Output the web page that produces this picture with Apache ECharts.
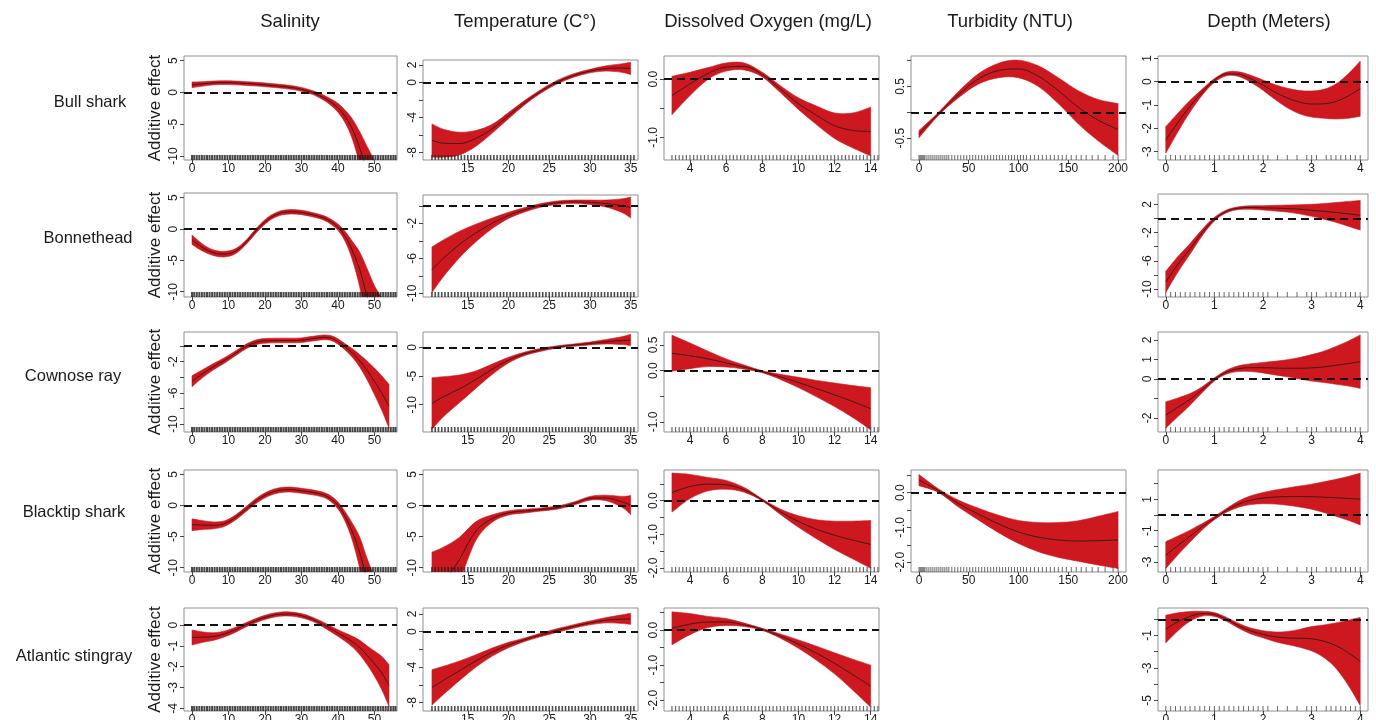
<!DOCTYPE html>
<html><head><meta charset="utf-8">
<script src="https://cdn.jsdelivr.net/npm/echarts@6/dist/echarts.min.js"></script>
<style>html,body{margin:0;padding:0;background:#fff}#c{width:1376px;height:720px}</style>
</head><body><div id="c"></div>
<script>
// ---------------- text ----------------
const columnTitles = ['Salinity', 'Temperature (C°)', 'Dissolved Oxygen (mg/L)', 'Turbidity (NTU)', 'Depth (Meters)'];
const speciesNames = ['Bull shark', 'Bonnethead', 'Cownose ray', 'Blacktip shark', 'Atlantic stingray'];
const yAxisTitle = 'Additive effect';

// ---------------- x grids of the smooths ----------------
const salX = [0, 3, 6, 9, 12, 15, 18, 21, 24, 27, 30, 33, 36, 38, 40, 42, 44, 46, 48, 50, 52, 54];
const tempX = [10.6, 12, 14, 16, 18, 20, 22, 24, 26, 28, 30, 32, 34, 35];
const doX = [3, 4, 5, 6, 7, 8, 9, 10, 11, 12, 13, 14];
const turbX = [0, 20, 40, 60, 80, 100, 120, 140, 160, 180, 200];
const depthX = [0, 0.25, 0.5, 0.75, 1, 1.25, 1.5, 1.75, 2, 2.25, 2.5, 2.75, 3, 3.25, 3.5, 3.75, 4];

// ---------------- x tick labels ----------------
const salTicks = [0, 10, 20, 30, 40, 50];
const tempTicks = [15, 20, 25, 30, 35];
const doTicks = [4, 6, 8, 10, 12, 14];
const turbTicks = [0, 50, 100, 150, 200];
const depthTicks = [0, 1, 2, 3, 4];

// ---------------- rug (observations) ----------------
const salRug = [0, 0.6, 1.3, 2, 2.7, 3.4, 4.1, 4.8, 5.5, 6.2, 6.9, 7.6, 8.3, 9, 9.7, 10.4, 11.1, 11.8, 12.5, 13.2, 13.9, 14.6, 15.3, 16, 16.7, 17.4, 18.1, 18.8, 19.5, 20.2, 20.9, 21.6, 22.3, 23, 23.7, 24.4, 25.1, 25.8, 26.5, 27.2, 27.9, 28.6, 29.3, 30, 30.7, 31.4, 32.1, 32.8, 33.5, 34.2, 34.9, 35.6, 36.3, 37, 37.7, 38.4, 39.1, 39.8, 40.5, 41.2, 41.9, 42.6, 43.3, 44, 44.7, 45.4, 46.1, 46.8, 47.5, 48.2, 48.9, 49.6, 50.3, 51, 51.7, 52.4, 53.1, 53.8, 54.5, 55.2, 55.8];
const tempRug = [10.6, 11, 11.4, 11.8, 12.2, 12.6, 13, 13.4, 13.8, 14.2, 14.6, 15, 15.4, 15.8, 16.2, 16.6, 17, 17.4, 17.8, 18.2, 18.6, 19, 19.4, 19.8, 20.2, 20.6, 21, 21.4, 21.8, 22.2, 22.6, 23, 23.4, 23.8, 24.2, 24.6, 25, 25.4, 25.8, 26.2, 26.6, 27, 27.4, 27.8, 28.2, 28.6, 29, 29.4, 29.8, 30.2, 30.6, 31, 31.4, 31.8, 32.2, 32.6, 33, 33.4, 33.8, 34.2, 34.6, 35, 35.4];
const doRug = [3, 3.2, 3.4, 3.6, 3.8, 4, 4.2, 4.4, 4.6, 4.8, 5, 5.2, 5.4, 5.6, 5.8, 6, 6.2, 6.4, 6.6, 6.8, 7, 7.2, 7.4, 7.6, 7.8, 8, 8.2, 8.4, 8.6, 8.8, 9, 9.2, 9.4, 9.6, 9.8, 10, 10.2, 10.4, 10.6, 10.8, 11, 11.2, 11.4, 11.6, 11.8, 12, 12.2, 12.4, 12.6, 12.8, 13, 13.2, 13.4, 13.6, 13.8, 14, 14.2, 14.4];
const turbRug = [0, 1, 2, 3, 4, 5, 6, 8, 10, 12, 14, 16, 18, 20, 22, 24, 26, 28, 30, 33, 36, 39, 42, 45, 48, 51, 54, 57, 60, 63, 66, 69, 72, 75, 78, 81, 84, 87, 90, 93, 96, 99, 102, 105, 108, 112, 116, 120, 124, 128, 132, 136, 140, 144, 148, 153, 158, 163, 168, 174, 180, 187, 195, 200];
const depthRug = [0, 0.1, 0.2, 0.3, 0.4, 0.5, 0.6, 0.7, 0.8, 0.9, 1, 1.1, 1.2, 1.3, 1.4, 1.5, 1.6, 1.7, 1.8, 1.9, 2, 2.1, 2.3, 2.5, 2.7, 2.9, 3, 3.1, 3.3, 3.4, 3.5, 3.6, 3.7, 3.8, 3.9, 4];

// ---------------- smooth fits and CI half-widths ----------------
// Bull shark
const bullSalFit = [1.2, 1.35, 1.5, 1.55, 1.5, 1.4, 1.3, 1.15, 1.0, 0.8, 0.5, 0.0, -0.8, -1.5, -2.4, -3.8, -5.8, -8.8, -12.5, -16.5, -21, -26];
const bullSalCi = [0.45, 0.35, 0.3, 0.3, 0.3, 0.3, 0.3, 0.3, 0.3, 0.3, 0.3, 0.3, 0.4, 0.5, 0.7, 1.0, 1.6, 2.6, 4, 5.8, 8, 10.5];
const bullTempFit = [-6.65, -6.95, -7.0, -6.4, -5.3, -3.8, -2.3, -1.0, 0.05, 0.8, 1.3, 1.6, 1.65, 1.6];
const bullTempCi = [1.9, 1.6, 1.3, 0.9, 0.5, 0.35, 0.25, 0.2, 0.2, 0.2, 0.2, 0.3, 0.5, 0.7];
const bullDoFit = [-0.28, -0.08, 0.1, 0.21, 0.22, 0.08, -0.17, -0.42, -0.62, -0.8, -0.88, -0.9];
const bullDoCi = [0.33, 0.2, 0.1, 0.07, 0.06, 0.04, 0.06, 0.1, 0.16, 0.22, 0.3, 0.42];
const bullTurbFit = [-0.42, -0.02, 0.35, 0.65, 0.81, 0.84, 0.7, 0.42, 0.1, -0.15, -0.33];
const bullTurbCi = [0.07, 0.03, 0.06, 0.1, 0.14, 0.17, 0.2, 0.25, 0.32, 0.4, 0.5];
const bullDepthFit = [-2.5, -1.75, -1.05, -0.45, 0.05, 0.33, 0.32, 0.12, -0.15, -0.45, -0.7, -0.88, -0.96, -0.95, -0.85, -0.62, -0.3];
const bullDepthCi = [0.57, 0.4, 0.25, 0.13, 0.08, 0.08, 0.1, 0.15, 0.22, 0.32, 0.42, 0.5, 0.56, 0.62, 0.75, 0.95, 1.18];
// Bonnethead
const bonnSalFit = [-1.7, -3.0, -3.8, -4.0, -3.5, -2.0, 0.0, 1.6, 2.5, 2.75, 2.65, 2.3, 1.8, 1.2, 0.3, -1.2, -3.5, -6.5, -10.8, -15, -19, -23];
const bonnSalCi = [0.75, 0.55, 0.45, 0.45, 0.4, 0.35, 0.35, 0.35, 0.35, 0.35, 0.35, 0.35, 0.35, 0.4, 0.5, 0.8, 1.5, 2.8, 4.5, 6, 8, 10];
const bonnTempFit = [-7.3, -6.0, -4.4, -3.1, -2.0, -1.1, -0.45, 0.05, 0.35, 0.45, 0.4, 0.25, 0.0, -0.2];
const bonnTempCi = [2.6, 2.1, 1.5, 1.0, 0.6, 0.35, 0.25, 0.2, 0.2, 0.2, 0.25, 0.4, 0.8, 1.2];
const bonnDepthFit = [-9.0, -6.5, -4.3, -2.0, -0.1, 1.0, 1.45, 1.55, 1.5, 1.45, 1.4, 1.3, 1.15, 1.0, 0.85, 0.65, 0.45];
const bonnDepthCi = [1.5, 1.1, 0.75, 0.45, 0.25, 0.2, 0.2, 0.25, 0.3, 0.4, 0.5, 0.65, 0.85, 1.1, 1.4, 1.75, 2.1];
// Cownose ray
const cowSalFit = [-4.5, -3.5, -2.6, -1.8, -0.9, 0.0, 0.55, 0.7, 0.72, 0.72, 0.75, 0.95, 1.12, 1.05, 0.6, -0.1, -0.9, -1.9, -3.1, -4.5, -6.0, -7.7];
const cowSalCi = [0.7, 0.5, 0.4, 0.35, 0.3, 0.3, 0.3, 0.3, 0.3, 0.3, 0.3, 0.3, 0.3, 0.3, 0.35, 0.4, 0.55, 0.8, 1.2, 1.7, 2.2, 2.8];
const cowTempFit = [-9.8, -8.6, -7.2, -5.6, -3.8, -2.2, -1.1, -0.4, 0.1, 0.4, 0.7, 1.0, 1.2, 1.3];
const cowTempCi = [4.5, 3.5, 2.4, 1.5, 0.9, 0.5, 0.3, 0.25, 0.2, 0.2, 0.25, 0.4, 0.7, 1.0];
const cowDoFit = [0.34, 0.29, 0.23, 0.15, 0.07, -0.02, -0.12, -0.23, -0.35, -0.47, -0.6, -0.74];
const cowDoCi = [0.35, 0.25, 0.15, 0.08, 0.04, 0.02, 0.05, 0.1, 0.16, 0.23, 0.31, 0.41];
const cowDepthFit = [-1.85, -1.45, -1.05, -0.55, -0.02, 0.35, 0.53, 0.58, 0.58, 0.56, 0.55, 0.55, 0.57, 0.62, 0.7, 0.79, 0.89];
const cowDepthCi = [0.68, 0.48, 0.3, 0.15, 0.08, 0.1, 0.15, 0.2, 0.27, 0.35, 0.44, 0.55, 0.68, 0.8, 0.97, 1.15, 1.37];
// Blacktip shark
const blackSalFit = [-3.1, -3.15, -3.2, -2.9, -1.9, -0.5, 0.9, 1.9, 2.45, 2.55, 2.35, 2.1, 1.7, 1.1, 0.0, -1.8, -4.3, -7.6, -12, -16, -20, -24];
const blackSalCi = [0.95, 0.7, 0.55, 0.45, 0.4, 0.4, 0.4, 0.4, 0.4, 0.4, 0.4, 0.4, 0.4, 0.45, 0.55, 0.8, 1.4, 2.5, 3.5, 4.5, 6, 7.5];
const blackTempFit = [-15, -12.5, -8.6, -4.1, -2.1, -1.2, -0.9, -0.65, -0.35, 0.3, 1.15, 1.2, 0.55, 0.05];
const blackTempCi = [7.5, 5.8, 3.5, 1.5, 0.6, 0.35, 0.3, 0.25, 0.25, 0.25, 0.3, 0.45, 0.9, 1.55];
const blackDoFit = [0.24, 0.42, 0.49, 0.47, 0.32, 0.02, -0.33, -0.62, -0.85, -1.03, -1.17, -1.3];
const blackDoCi = [0.58, 0.36, 0.2, 0.13, 0.07, 0.03, 0.08, 0.17, 0.28, 0.42, 0.56, 0.71];
const blackTurbFit = [0.36, 0.05, -0.32, -0.62, -0.9, -1.13, -1.28, -1.36, -1.39, -1.38, -1.36];
const blackTurbCi = [0.16, 0.05, 0.1, 0.17, 0.25, 0.33, 0.42, 0.5, 0.58, 0.7, 0.82];
const blackDepthFit = [-2.57, -1.95, -1.35, -0.75, -0.2, 0.3, 0.7, 0.95, 1.08, 1.15, 1.18, 1.18, 1.17, 1.14, 1.1, 1.06, 1.02];
const blackDepthCi = [0.86, 0.6, 0.38, 0.2, 0.1, 0.12, 0.2, 0.28, 0.36, 0.45, 0.55, 0.67, 0.8, 0.98, 1.18, 1.4, 1.66];
// Atlantic stingray
const atlSalFit = [-0.6, -0.58, -0.55, -0.42, -0.22, 0.03, 0.25, 0.42, 0.52, 0.53, 0.45, 0.28, 0.02, -0.18, -0.38, -0.58, -0.8, -1.08, -1.45, -1.85, -2.3, -2.9];
const atlSalCi = [0.36, 0.25, 0.18, 0.14, 0.12, 0.1, 0.1, 0.1, 0.1, 0.1, 0.1, 0.1, 0.12, 0.14, 0.16, 0.2, 0.26, 0.35, 0.45, 0.6, 0.8, 1.0];
const atlTempFit = [-6.3, -5.5, -4.4, -3.3, -2.3, -1.5, -0.9, -0.35, 0.15, 0.6, 1.0, 1.3, 1.42, 1.45];
const atlTempCi = [2.0, 1.6, 1.1, 0.7, 0.45, 0.3, 0.2, 0.2, 0.2, 0.2, 0.22, 0.3, 0.5, 0.63];
const atlDoFit = [0.05, 0.17, 0.23, 0.23, 0.15, 0.02, -0.17, -0.4, -0.66, -0.95, -1.27, -1.6];
const atlDoCi = [0.47, 0.3, 0.16, 0.1, 0.05, 0.03, 0.06, 0.12, 0.2, 0.3, 0.44, 0.6];
const atlDepthFit = [-0.6, -0.15, 0.18, 0.35, 0.3, 0.0, -0.4, -0.72, -0.92, -1.08, -1.15, -1.17, -1.2, -1.35, -1.62, -2.05, -2.6];
const atlDepthCi = [0.85, 0.55, 0.3, 0.15, 0.12, 0.12, 0.15, 0.18, 0.22, 0.3, 0.4, 0.55, 0.75, 1.0, 1.4, 2.0, 2.72];

// ---------------- y tick values / labels ----------------
const yT10 = [-10, -5, 0, 5];
const yTtemp8 = [-8, -6, -4, -2, 0, 2], yLtemp8 = [-8, -4, 0, 2];
const yTdo1 = [-1, -0.5, 0], yLdo1 = [-1, 0];
const yTturb1 = [-0.5, 0, 0.5, 1], yLturb1 = [-0.5, 0.5];
const yTdep1 = [-3, -2, -1, 0, 1];
const yTtemp2 = [-10, -8, -6, -4, -2, 0], yLtemp2 = [-10, -6, -2];
const yTdep2 = [-10, -8, -6, -4, -2, 0, 2], yLdep2 = [-10, -6, -2, 2];
const yTsal3 = [-10, -8, -6, -4, -2, 0], yLsal3 = [-10, -6, -2];
const yTtemp3 = [-15, -10, -5, 0];
const yTdo3 = [-1, -0.5, 0, 0.5], yLdo3 = [-1, 0, 0.5];
const yTdep3 = [-2, -1, 0, 1, 2], yLdep3 = [-2, 0, 1, 2];
const yTtwo = [-2, -1.5, -1, -0.5, 0, 0.5], yLtwo = [-2, -1, 0];
const yTdep4 = [-3, -2, -1, 0, 1, 2], yLdep4 = [-3, -1, 1];
const yTsal5 = [-4, -3, -2, -1, 0];
const yTdep5 = [-5, -4, -3, -2, -1, 0], yLdep5 = [-5, -3, -1];

// ---------------- layout ----------------
const colLeft = [184, 423, 664, 911, 1158];
const colRight = [397, 638, 879, 1126, 1368];
const rowTop = [56, 193, 332, 470, 608];
const rowBottom = [160, 297, 432, 572, 711];
const titleX = [290, 525, 768, 1010, 1269];
const nameX = [90, 88, 73, 74, 74];
const nameY = [102, 238, 376, 512, 656];

const colX = [salX, tempX, doX, turbX, depthX];
const colRug = [salRug, tempRug, doRug, turbRug, depthRug];
const colXTicks = [salTicks, tempTicks, doTicks, turbTicks, depthTicks];
const colXlim = [[-2.2, 56.2], [9.5, 35.9], [2.56, 14.46], [-8, 208], [-0.16, 4.16]];
const colDec = [0, 0, 1, 1, 0];
const colRugW = [2, 1.6, 1.2, 1, 1];
const colRugC = ['#1a1a1a', '#222222', '#444444', '#444444', '#444444'];

const panels = [
  { r: 0, c: 0, fit: bullSalFit, ci: bullSalCi, ylim: [-10.63, 5.74], yt: yT10, yl: yT10 },
  { r: 0, c: 1, top: 60, fit: bullTempFit, ci: bullTempCi, ylim: [-8.88, 2.57], yt: yTtemp8, yl: yLtemp8 },
  { r: 0, c: 2, fit: bullDoFit, ci: bullDoCi, ylim: [-1.39, 0.40], yt: yTdo1, yl: yLdo1 },
  { r: 0, c: 3, fit: bullTurbFit, ci: bullTurbCi, ylim: [-0.92, 1.09], yt: yTturb1, yl: yLturb1 },
  { r: 0, c: 4, fit: bullDepthFit, ci: bullDepthCi, ylim: [-3.36, 1.10], yt: yTdep1, yl: yTdep1 },
  { r: 1, c: 0, fit: bonnSalFit, ci: bonnSalCi, ylim: [-10.84, 5.75], yt: yT10, yl: yT10 },
  { r: 1, c: 1, top: 195, fit: bonnTempFit, ci: bonnTempCi, ylim: [-10.42, 1.23], yt: yTtemp2, yl: yLtemp2 },
  { r: 1, c: 4, top: 194, fit: bonnDepthFit, ci: bonnDepthCi, ylim: [-11.13, 3.46], yt: yTdep2, yl: yLdep2 },
  { r: 2, c: 0, fit: cowSalFit, ci: cowSalCi, ylim: [-11.01, 1.81], yt: yTsal3, yl: yLsal3 },
  { r: 2, c: 1, fit: cowTempFit, ci: cowTempCi, ylim: [-14.76, 2.7], yt: yTtemp3, yl: yTtemp3 },
  { r: 2, c: 2, fit: cowDoFit, ci: cowDoCi, ylim: [-1.195, 0.754], yt: yTdo3, yl: yLdo3 },
  { r: 2, c: 4, fit: cowDepthFit, ci: cowDepthCi, ylim: [-2.72, 2.41], yt: yTdep3, yl: yLdep3 },
  { r: 3, c: 0, fit: blackSalFit, ci: blackSalCi, ylim: [-10.69, 5.69], yt: yT10, yl: yT10 },
  { r: 3, c: 1, fit: blackTempFit, ci: blackTempCi, ylim: [-10.69, 5.69], yt: yT10, yl: yT10 },
  { r: 3, c: 2, fit: blackDoFit, ci: blackDoCi, ylim: [-2.12, 0.91], yt: yTtwo, yl: yLtwo },
  { r: 3, c: 3, fit: blackTurbFit, ci: blackTurbCi, ylim: [-2.28, 0.65], yt: yTtwo, yl: yLtwo },
  { r: 3, c: 4, fit: blackDepthFit, ci: blackDepthCi, ylim: [-3.65, 2.88], yt: yTdep4, yl: yLdep4 },
  { r: 4, c: 0, fit: atlSalFit, ci: atlSalCi, ylim: [-4.13, 0.82], yt: yTsal5, yl: yTsal5 },
  { r: 4, c: 1, fit: atlTempFit, ci: atlTempCi, ylim: [-8.96, 2.68], yt: yTtemp8, yl: yLtemp8 },
  { r: 4, c: 2, fit: atlDoFit, ci: atlDoCi, ylim: [-2.31, 0.63], yt: yTtwo, yl: yLtwo },
  { r: 4, c: 4, fit: atlDepthFit, ci: atlDepthCi, ylim: [-5.66, 0.70], yt: yTdep5, yl: yLdep5 }
];

const FONT = '"Liberation Sans", Arial, Helvetica, sans-serif';
const BAND = '#cc181e';

function smoothSeg(p) {
  let s = '';
  for (let i = 0; i < p.length - 1; i++) {
    const p0 = p[i - 1] || p[i], p1 = p[i], p2 = p[i + 1], p3 = p[i + 2] || p[i + 1];
    const c1 = [p1[0] + (p2[0] - p0[0]) / 6, p1[1] + (p2[1] - p0[1]) / 6];
    const c2 = [p2[0] - (p3[0] - p1[0]) / 6, p2[1] - (p3[1] - p1[1]) / 6];
    s += ' C' + c1[0] + ' ' + c1[1] + ' ' + c2[0] + ' ' + c2[1] + ' ' + p2[0] + ' ' + p2[1];
  }
  return s;
}
function bandRenderer(xs, fit, ci) {
  return function (params, api) {
    if (params.dataIndex !== 0) return null;
    const up = xs.map((x, k) => api.coord([x, fit[k] + ci[k]]));
    const lo = xs.map((x, k) => api.coord([x, fit[k] - ci[k]])).reverse();
    const d = 'M' + up[0][0] + ' ' + up[0][1] + smoothSeg(up) + ' L' + lo[0][0] + ' ' + lo[0][1] + smoothSeg(lo) + ' Z';
    return { type: 'path', shape: { pathData: d }, style: { fill: BAND, stroke: BAND, lineWidth: 0.6 } };
  };
}

const grids = [], xAxes = [], yAxes = [], series = [];
panels.forEach((p, i) => {
  const c = p.c, r = p.r;
  const top = p.top != null ? p.top : rowTop[r];
  const bottom = rowBottom[r];
  grids.push({ left: colLeft[c], top: top, width: colRight[c] - colLeft[c], height: bottom - top,
    show: true, borderColor: '#8f8f8f', borderWidth: 1, backgroundColor: 'rgba(0,0,0,0)', outerBoundsMode: 'none' });
  xAxes.push({ gridIndex: i, type: 'value', min: colXlim[c][0], max: colXlim[c][1],
    axisLine: { show: false, onZero: false }, splitLine: { show: false },
    axisTick: { show: true, inside: false, length: 4, lineStyle: { color: '#444', width: 1 }, customValues: colXTicks[c] },
    axisLabel: { show: true, customValues: colXTicks[c], fontSize: 12, color: '#1a1a1a', fontFamily: FONT, margin: 3 } });
  const dec = colDec[c];
  yAxes.push({ gridIndex: i, type: 'value', min: p.ylim[0], max: p.ylim[1],
    axisLine: { show: false, onZero: false }, splitLine: { show: false },
    axisTick: { show: true, inside: false, length: 4, lineStyle: { color: '#444', width: 1 }, customValues: p.yt },
    axisLabel: { show: true, customValues: p.yl, rotate: 90, fontSize: 12, color: '#1a1a1a', fontFamily: FONT, margin: 4,
      formatter: v => dec ? Number(v).toFixed(1) : String(Math.round(v)) } });
  const xs = colX[c];
  series.push({ type: 'custom', coordinateSystem: 'cartesian2d', xAxisIndex: i, yAxisIndex: i, clip: true, silent: true, z: 2,
    renderItem: bandRenderer(xs, p.fit, p.ci), data: xs.map((x, k) => [x, p.fit[k]]), encode: { x: 0, y: 1 }, animation: false });
  series.push({ type: 'line', xAxisIndex: i, yAxisIndex: i, data: xs.map((x, k) => [x, p.fit[k]]), smooth: 0.35,
    showSymbol: false, symbol: 'none', clip: true, silent: true, z: 3,
    lineStyle: { color: '#1a1a1a', width: 0.8 },
    markLine: { silent: true, symbol: ['none', 'none'], label: { show: false }, animation: false,
      lineStyle: { color: '#111', width: 2, type: [8, 5] }, emphasis: { disabled: true }, data: [{ yAxis: 0 }] } });
  series.push({ type: 'scatter', xAxisIndex: i, yAxisIndex: i, silent: true, z: 4, clip: false,
    symbol: 'rect', symbolSize: [colRugW[c], 5], symbolOffset: [0, -2.5],
    itemStyle: { color: colRugC[c] }, data: colRug[c].map(v => [v, p.ylim[0]]) });
});

const graphics = [];
columnTitles.forEach((t, c) => graphics.push({ type: 'text', x: titleX[c], y: 22, silent: true,
  style: { text: t, fontSize: 18.5, fontFamily: FONT, fill: '#1a1a1a', align: 'center', verticalAlign: 'middle', textAlign: 'center', textVerticalAlign: 'middle' } }));
speciesNames.forEach((t, r) => graphics.push({ type: 'text', x: nameX[r], y: nameY[r], silent: true,
  style: { text: t, fontSize: 16.5, fontFamily: FONT, fill: '#1a1a1a', align: 'center', verticalAlign: 'middle', textAlign: 'center', textVerticalAlign: 'middle' } }));
rowTop.forEach((t, r) => graphics.push({ type: 'text', x: 155, y: (t + rowBottom[r]) / 2, rotation: Math.PI / 2, silent: true,
  style: { text: yAxisTitle, fontSize: 17, fontFamily: FONT, fill: '#1a1a1a', align: 'center', verticalAlign: 'middle', textAlign: 'center', textVerticalAlign: 'middle' } }));

const chart = echarts.init(document.getElementById('c'), null, { renderer: 'canvas' });
chart.setOption({
  animation: false,
  backgroundColor: '#ffffff',
  grid: grids, xAxis: xAxes, yAxis: yAxes, series: series, graphic: graphics
});
</script></body></html>
